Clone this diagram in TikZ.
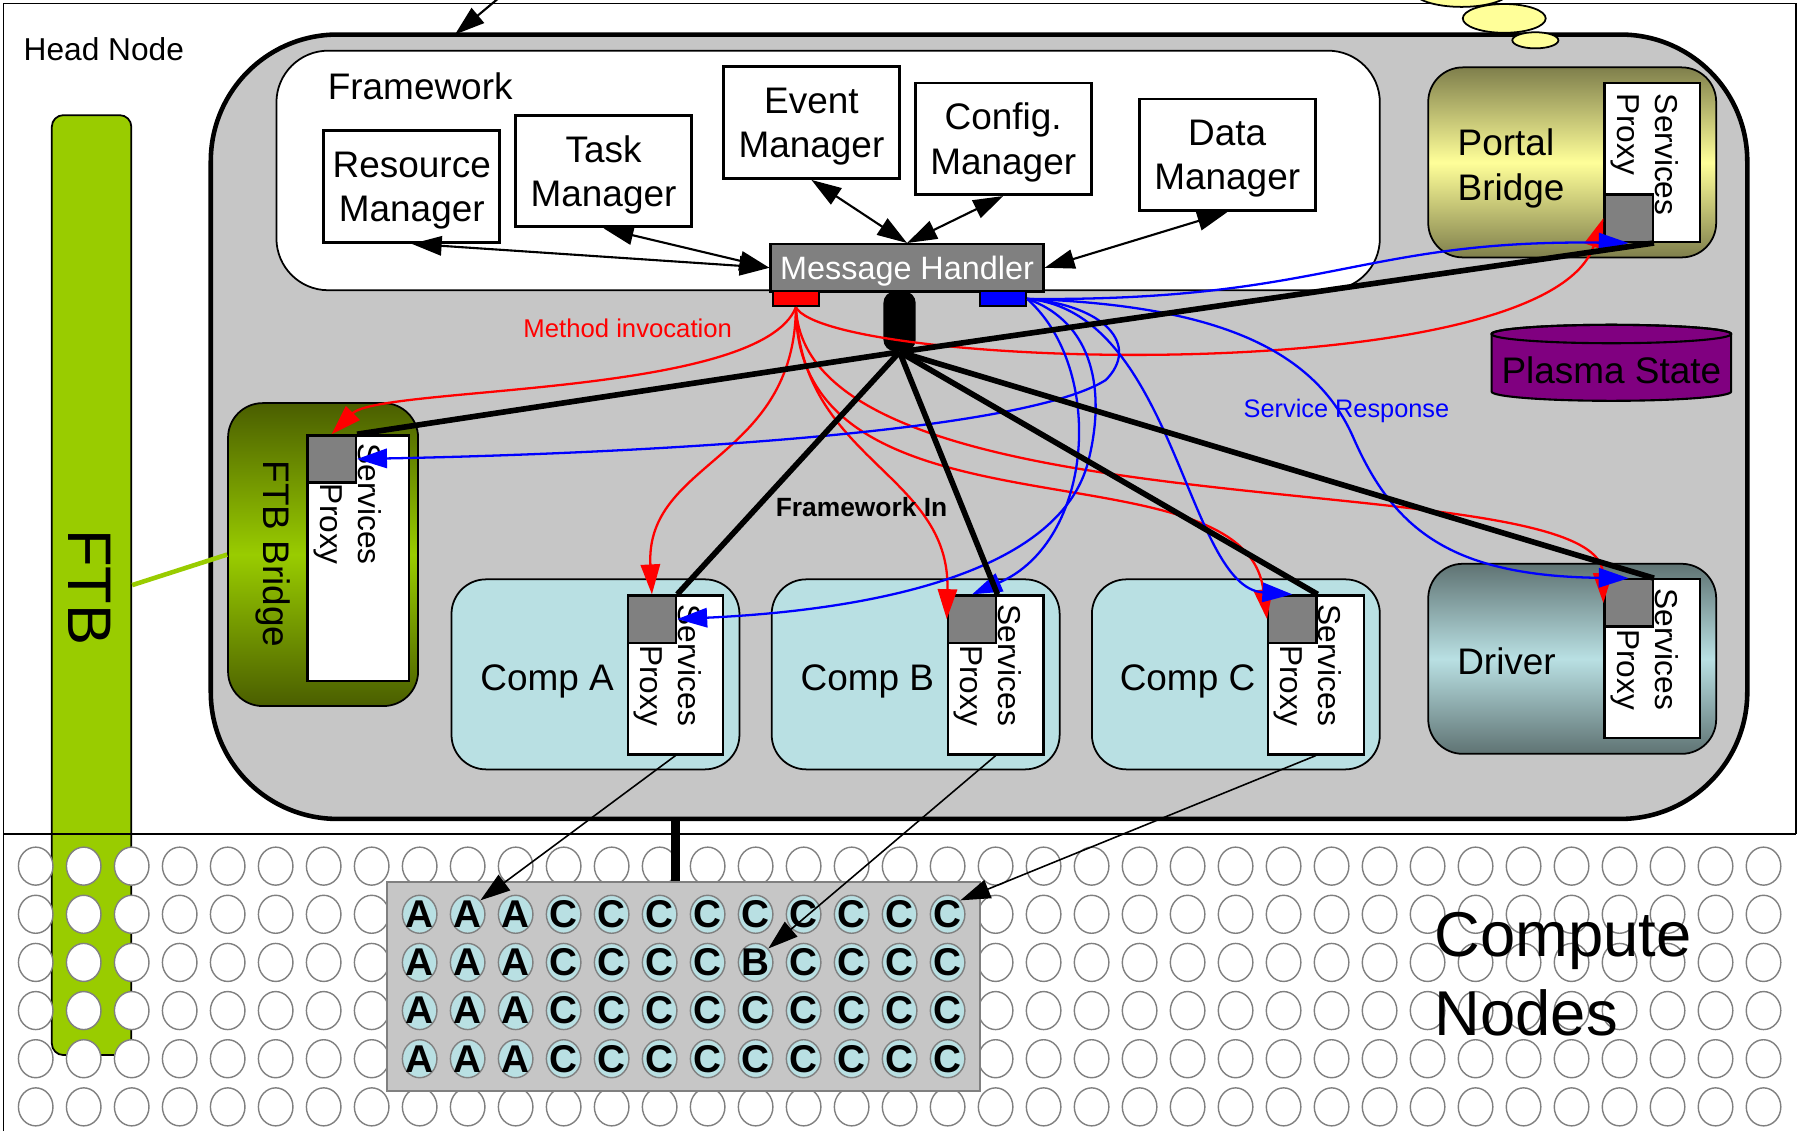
\documentclass[tikz,border=0pt]{standalone}
\usepackage{fontspec}
\setmainfont{Liberation Sans}
\usepackage{tikz}
\usetikzlibrary{shapes,arrows,positioning,calc,arrows.meta,shapes.geometric}

\definecolor{headgray}{HTML}{C6C6C6}
\definecolor{compblue}{HTML}{B9E0E3}
\definecolor{ftbgreen}{HTML}{99CC00}
\definecolor{ftbdark}{HTML}{4A5E00}
\definecolor{portaldark}{HTML}{7F7F4C}
\definecolor{portallight}{HTML}{FFFF99}
\definecolor{driverdark}{HTML}{5F7373}
\definecolor{plasma}{HTML}{800080}
\definecolor{handlergray}{HTML}{808080}
\definecolor{bubble}{HTML}{FFFF99}

% drawing grid unit
\newlength\gu
\setlength\gu{0.0115cm}

\tikzset{
  >={Triangle[length=8.5pt,width=5.5pt]},
  boxtext/.style={text depth=0pt, font=\fontsize{10.5}{12.6}\selectfont},
  mgr/.style={draw, line width=0.8pt, fill=white, minimum width=153\gu,
    minimum height=97\gu, inner sep=0pt, align=center, boxtext},
  comp/.style={draw, line width=0.5pt, fill=compblue, rounded corners=30\gu,
    minimum width=250\gu, minimum height=165\gu, inner sep=0pt},
  proxy/.style={draw, line width=0.65pt, fill=white, minimum width=83\gu,
    minimum height=138\gu, inner sep=0pt},
  pxsq/.style={draw, line width=0.65pt, fill=handlergray, minimum width=42\gu,
    minimum height=41\gu, inner sep=0pt},
  pxtext/.style={rotate=-90, inner sep=0pt, font=\fontsize{9}{10.8}\selectfont},
  portbox/.style={draw, line width=0.5pt, minimum width=40\gu, minimum height=13\gu, inner sep=0pt},
  cn/.style={ellipse, draw=gray, line width=0.4pt, fill=white, minimum width=30\gu,
    minimum height=33\gu, inner sep=0pt},
  rankfont/.style={inner sep=0pt, font=\bfseries\fontsize{11}{11}\selectfont},
  dbl/.style={<->, line width=0.6pt},
  inv/.style={->, draw=red, line width=0.65pt},
  resp/.style={->, draw=blue, line width=0.65pt},
  fwin/.style={line width=1.6pt},
  allocarrow/.style={->, line width=0.45pt},
}

% services proxy with its port square on top
\newcommand{\svcproxy}[3]{%
  \node[proxy] (#1) at (#2,#3) {};
  \node[pxsq, anchor=north west] (#1-sq) at (#1.north west) {};
  \node[pxtext, align=right, anchor=east] (#1-txt) at ($(#1.north west)+(35.6,115)$) {Services\\Proxy};
}

\begin{document}
\begin{tikzpicture}[x=0.0115cm, y=-0.0115cm]
\useasboundingbox (0,0) rectangle (1568,982);

% frame
\draw[line width=0.5pt] (3,982) -- (3,3) -- (1559,3) -- (1559,724);
\node[anchor=west, inner sep=0pt, font=\fontsize{9}{11}\selectfont] (headlbl) at (20,43) {Head Node};

% FTB backplane
\node[draw, line width=0.5pt, fill=ftbgreen, rounded corners=10\gu, minimum width=69\gu,
  minimum height=816\gu, inner sep=0pt] (ftb) at (79.5,508) {};
\node[rotate=-90, font=\fontsize{17.5}{20}\selectfont] (ftblbl) at (78,510) {FTB};
\draw[line width=0.5pt] (3,724) -- (1559,724);

% framework container
\node[draw, line width=1.3pt, fill=headgray, rounded corners=110\gu, minimum width=1334\gu,
  minimum height=681\gu, inner sep=0pt] (hn) at (850,370.5) {};
\node[draw, line width=0.5pt, fill=white, rounded corners=45\gu, minimum width=958\gu,
  minimum height=208\gu, inner sep=0pt] (fw) at (719,148) {};
\node[anchor=west, inner sep=0pt, boxtext] (fwlbl) at (284,75) {Framework};

\node[mgr] (rm) at (357.5,162) {Resource\\Manager};
\node[mgr] (tm) at (524,148.5) {Task\\Manager};
\node[mgr] (em) at (704.5,106.5) {Event\\Manager};
\node[mgr] (cm) at (871,120.5) {Config.\\Manager};
\node[mgr] (dm) at (1065.5,134.5) {Data\\Manager};

\node[draw, line width=0.65pt, fill=handlergray, text=white, minimum width=237\gu,
  minimum height=41\gu, inner sep=0pt, text depth=0pt, font=\fontsize{9.2}{11}\selectfont] (mh) at (787.5,232.5) {Message Handler};
\node[portbox, fill=red] (mi) at (691,259.5) {};
\node[portbox, fill=blue] (sr) at (871,259.5) {};
\node[fill=black, rounded corners=10\gu, minimum width=28\gu, minimum height=52\gu, inner sep=0pt] (fwport) at (781,279) {};

\draw[dbl] (rm.south) -- (mh.west);
\draw[dbl] (tm.south) -- (mh.west);
\draw[dbl] (em.south) -- (mh.north);
\draw[dbl] (cm.south) -- (mh.north);
\draw[dbl] (dm.south) -- (mh.east);

% bridges and components
\node[draw, line width=0.5pt, rounded corners=30\gu, minimum width=165\gu, minimum height=263\gu,
  top color=ftbdark, bottom color=ftbdark, middle color=ftbgreen] (fb) at (280.5,481.5) {};
\draw[line width=1.3pt, ftbgreen] (ftb.east) -- (fb.west);
\node[rotate=-90, boxtext] (fblbl) at (240,481) {FTB Bridge};

\node[comp] (ca) at (517,585.5) {};
\node[comp] (cb) at (795,585.5) {};
\node[comp] (cc) at (1073,585.5) {};
\node[comp, top color=driverdark, bottom color=driverdark, middle color=compblue] (drv) at (1365,572) {};
\node[comp, top color=portaldark, bottom color=portaldark, middle color=portallight] (pbr) at (1365,141) {};
\node[boxtext] (calbl) at (475,588) {Comp A};
\node[boxtext] (cblbl) at (753,588) {Comp B};
\node[boxtext] (cclbl) at (1031,588) {Comp C};
\node[boxtext] (drvlbl) at (1308,574) {Driver};
\node[boxtext, anchor=west, inner sep=0pt, align=left] (pbrlbl) at (1265,143) {Portal\\Bridge};

% proxies
\node[proxy, minimum width=88\gu, minimum height=213\gu] (pf) at (311,484.5) {};
\node[pxsq, anchor=north west] (pf-sq) at (pf.north west) {};
\node[pxtext, align=right, anchor=east] (pf-txt) at ($(pf.north west)+(35.6,114)$) {Services\\Proxy};
\svcproxy{pa}{586.5}{586}
\svcproxy{pb}{864.5}{586}
\svcproxy{pc}{1142.5}{586}
\svcproxy{pd}{1434.5}{572}
\node[proxy] (pp) at (1434.5,141) {};
\node[pxsq, anchor=south west] (pp-sq) at (pp.south west) {};
\node[pxtext, align=left, anchor=west] (pp-txt) at ($(pp.north west)+(35.6,10)$) {Services\\Proxy};

% plasma state
\draw[line width=0.6pt, fill=plasma] (1295,290) -- (1295,340)
  arc[start angle=180, end angle=0, x radius=104, y radius=8] -- (1503,290)
  arc[start angle=0, end angle=-180, x radius=104, y radius=8] -- cycle;
\draw[line width=0.6pt] (1399,290) ellipse [x radius=104, y radius=8];
\node[boxtext] (pslbl) at (1399,321) {Plasma State};

% method invocation
\draw[inv] (mi.south) .. controls (660,345) and (330,335) .. (pf-sq.north);
\draw[inv] (mi.south) .. controls (690,400) and (560,400) .. (pa-sq.north);
\draw[inv] (mi.south) .. controls (695,400) and (825,410) .. (pb-sq.west);
\draw[inv] (mi.south) .. controls (690,480) and (1080,380) .. (pc-sq.west);
\draw[inv] (mi.south) .. controls (700,470) and (1390,400) .. (pd-sq.west);
\draw[inv] (mi.south) .. controls (720,320) and (1340,340) .. (pp-sq.west);

% service response
\draw[resp] (sr.east) .. controls (1150,262) and (1180,208) .. (pp-sq.south);
\draw[resp] (sr.east) .. controls (960,265) and (990,300) .. (960,330)
  .. controls (880,380) and (500,395) .. (pf-sq.east);
\draw[resp] (sr.east) .. controls (950,280) and (960,340) .. (945,400)
  .. controls (920,500) and (750,530) .. (pa-sq.east);
\draw[resp] (sr.east) .. controls (960,320) and (950,470) .. (pb-sq.north);
\draw[resp] (sr.east) .. controls (1020,270) and (1030,510) .. (pc-sq.north);
\draw[resp] (sr.east) .. controls (1050,265) and (1140,300) .. (1175,380)
  .. controls (1210,460) and (1260,500) .. (pd-sq.north);

% framework in
\foreach \t in {pf-sq.north east, pa-sq.north east, pb-sq.north east, pc-sq.north east, pd-sq.north east, pp-sq.south east}
  \draw[fwin] (fwport.south) -- (\t);

\node[text=red, font=\fontsize{7.3}{9}\selectfont] (milbl) at (545,285) {Method invocation};
\node[text=blue, font=\fontsize{7.2}{9}\selectfont] (srlbl) at (1169,357) {Service Response};
\node[font=\bfseries\fontsize{7.5}{9}\selectfont] (fwinlbl) at (748,440) {Framework In};

% compute nodes
\foreach \i in {0,...,36}
  \foreach \j in {0,...,5}
    \node[cn] (n-\i-\j) at ({31+41.67*\i},{752+41.8*\j}) {};
\node[draw=gray, line width=0.5pt, fill=headgray, minimum width=515\gu, minimum height=181\gu,
  inner sep=0pt] (alloc) at (593.5,856.5) {};
\foreach \i in {8,...,19}
  \foreach \j in {1,...,4}{
    \ifnum\i<11 \def\cnlbl{A}\else\def\cnlbl{C}\fi
    \ifnum\i=15 \ifnum\j=2 \def\cnlbl{B}\fi\fi
    \node[cn, fill=compblue] (n-\i-\j) at ({31+41.67*\i},{752+41.8*\j}) {};
    \node[rankfont] (r-\i-\j) at (n-\i-\j) {\cnlbl};
  }
\node[anchor=west, inner sep=0pt, align=left, font=\fontsize{18}{22.3}\selectfont] (cnodes) at (1245,846) {Compute\\Nodes};

\draw[line width=2.6pt] (hn.south -| pa.south) -- (alloc.north -| pa.south);
\draw[allocarrow] (pa.south) -- (n-9-1.north east);
\draw[allocarrow] (pb.south) -- (n-15-2.north east);
\draw[allocarrow] (pc.south) -- (n-19-1.north east);

% launch arrow and thought bubbles
\coordinate (feed) at (437,-5);
\coordinate (feedtip) at (395,30);
\draw[->, line width=0.6pt] (feed) -- (feedtip);
\draw[line width=0.5pt, fill=bubble] (1269,-8) ellipse [x radius=42, y radius=14];
\draw[line width=0.5pt, fill=bubble] (1306,16) ellipse [x radius=36, y radius=12.5];
\draw[line width=0.5pt, fill=bubble] (1333,35) ellipse [x radius=20, y radius=7];
\end{tikzpicture}
\end{document}
